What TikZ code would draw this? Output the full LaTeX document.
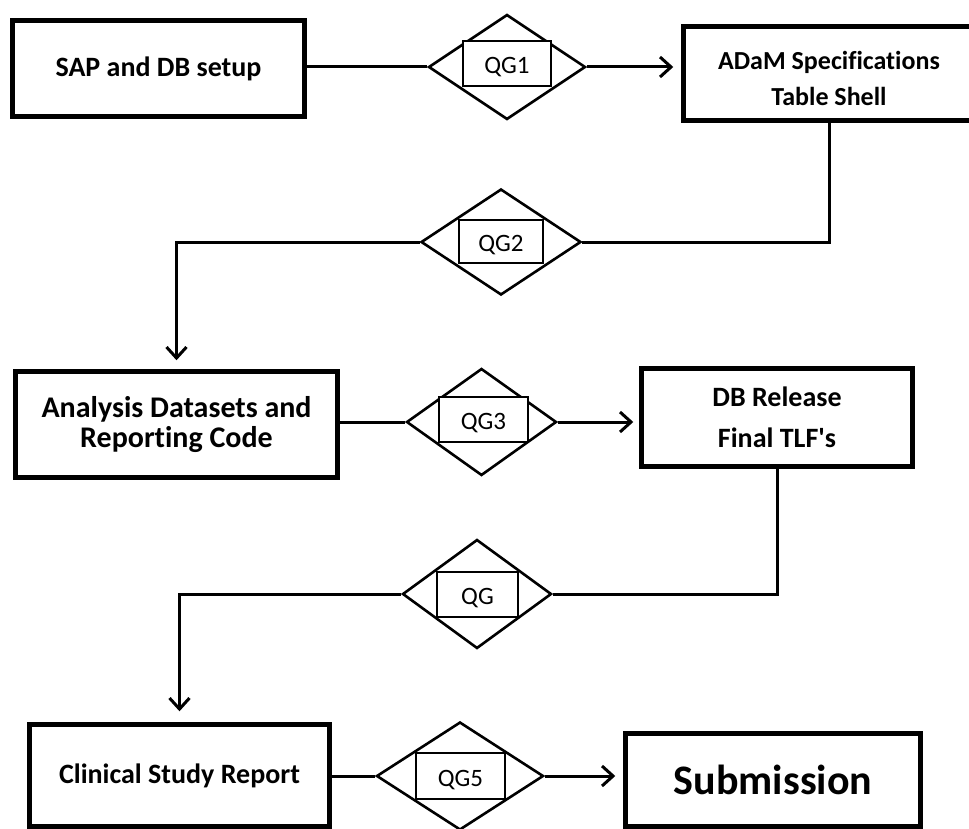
\documentclass[tikz,border=0pt]{standalone}
\usepackage{fontspec}
\setmainfont{Carlito}[Ligatures=NoCommon]
\usetikzlibrary{shapes.geometric,arrows.meta}
\begin{document}
\begin{tikzpicture}[x=1pt,y=-1pt,
  box/.style={draw,line width=4.5pt,inner sep=0pt,align=center},
  gate/.style={draw,diamond,line width=2.6pt,inner sep=0pt},
  tag/.style={draw,fill=white,line width=1.3pt,inner sep=0pt,text height=20.8pt,text depth=0pt,font=\fontsize{25}{25}\selectfont},
  conn/.style={line width=3pt},
  arr/.style={conn,-{Straight Barb[length=11pt,width=20pt,line width=3pt]}}
]
\useasboundingbox (0,0) rectangle (969,829);

% boxes
\node[box,minimum width=292pt,minimum height=96pt,font=\bfseries\fontsize{28}{34}\selectfont] (b1) at (158.5,68.5) {SAP and DB setup};
\node[box,minimum width=291pt,minimum height=94pt,font=\bfseries\fontsize{26}{36}\selectfont] (b2) at (829,73.5)
  {\raisebox{-7pt}[\height][\depth]{\begin{tabular}{@{}c@{}}ADaM Specifications\\Table Shell\end{tabular}}};
\node[box,minimum width=322pt,minimum height=106pt,font=\bfseries\fontsize{30}{30}\selectfont] (b3) at (176.5,424.5) {Analysis Datasets and\\Reporting Code};
\node[box,minimum width=271pt,minimum height=98pt,font=\bfseries\fontsize{28}{41}\selectfont] (b4) at (777,417.5) {DB Release\\Final TLF\textquotesingle s};
\node[box,minimum width=300pt,minimum height=102pt,font=\bfseries\fontsize{28}{34}\selectfont] (b5) at (179.5,775.5) {Clinical Study Report};
\node[box,minimum width=295pt,minimum height=93pt,font=\bfseries\fontsize{42}{50}\selectfont] (b6) at (773,780) {Submission};

% gates
\node[gate,minimum width=157pt,minimum height=105pt] (d1) at (507,67) {};
\node[gate,minimum width=160pt,minimum height=106pt] (d2) at (501,242) {};
\node[gate,minimum width=150pt,minimum height=107pt] (d3) at (481.5,422) {};
\node[gate,minimum width=149pt,minimum height=109pt] (d4) at (477,594) {};
\node[gate,minimum width=167pt,minimum height=108pt] (d5) at (460,776) {};

\node[tag,minimum width=88pt,minimum height=45pt] (q1) at (507,63.5) {QG1};
\node[tag,minimum width=84pt,minimum height=43pt] (q2) at (501,241.5) {QG2};
\node[tag,minimum width=89pt,minimum height=45pt] (q3) at (483.5,419.5) {QG3};
\node[tag,minimum width=81pt,minimum height=45pt] (q4) at (477.5,594.5) {QG};
\node[tag,minimum width=89pt,minimum height=46pt] (q5) at (460.5,776) {QG5};

% connectors
\draw[conn] (b1.east |- d1.west) -- (d1.west);
\draw[arr,shorten >=8pt] (d1.east) -- (d1.east -| b2.west);
\draw[conn] (b2.south) |- (d2.east);
\draw[arr,shorten >=9pt] (d2.west) -| (b3.north);
\draw[conn] (b3.east |- d3.west) -- (d3.west);
\draw[arr,shorten >=6pt] (d3.east) -- (d3.east -| b4.west);
\draw[conn] (b4.south) |- (d4.east);
\draw[arr,shorten >=11pt] (d4.west) -| (b5.north);
\draw[conn] (b5.east |- d5.west) -- (d5.west);
\draw[arr,shorten >=8pt] (d5.east) -- (d5.east -| b6.west);
\end{tikzpicture}
\end{document}
